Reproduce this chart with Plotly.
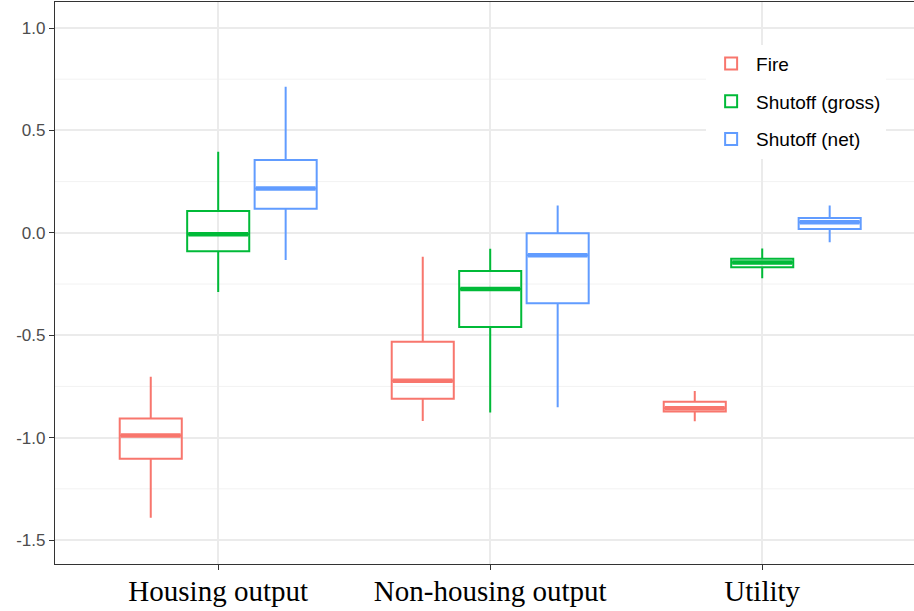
import plotly.graph_objects as go

categories = ["Housing output", "Non-housing output", "Utility"]
series = ["Fire", "Shutoff (gross)", "Shutoff (net)"]
colors = ["#F8766D", "#00BA38", "#619CFF"]

# per series: values for each category
lower = {
    "Fire": [-1.391, -0.919, -0.920],
    "Shutoff (gross)": [-0.289, -0.877, -0.222],
    "Shutoff (net)": [-0.133, -0.852, -0.046],
}
q1 = {
    "Fire": [-1.103, -0.810, -0.873],
    "Shutoff (gross)": [-0.090, -0.460, -0.168],
    "Shutoff (net)": [0.118, -0.344, 0.019],
}
median = {
    "Fire": [-0.989, -0.722, -0.857],
    "Shutoff (gross)": [-0.007, -0.274, -0.145],
    "Shutoff (net)": [0.217, -0.110, 0.052],
}
q3 = {
    "Fire": [-0.906, -0.532, -0.825],
    "Shutoff (gross)": [0.106, -0.187, -0.127],
    "Shutoff (net)": [0.355, -0.002, 0.072],
}
upper = {
    "Fire": [-0.703, -0.117, -0.772],
    "Shutoff (gross)": [0.396, -0.078, -0.076],
    "Shutoff (net)": [0.713, 0.134, 0.134],
}

ytick_vals = [-1.5, -1.0, -0.5, 0.0, 0.5, 1.0]
ytick_text = ["-1.5", "-1.0", "-0.5", "0.0", "0.5", "1.0"]

BOXGAP = 0.256
BOXGROUPGAP = 0.08

xpos = list(range(len(categories)))
fig = go.Figure()
for j, s in enumerate(series):
    fig.add_trace(go.Box(
        name=s, x=xpos,
        q1=q1[s], median=median[s], q3=q3[s],
        lowerfence=lower[s], upperfence=upper[s],
        line=dict(color=colors[j], width=2),
        whiskerwidth=0,
        fillcolor="rgba(255,255,255,0)",
        legendgroup=s,
        boxpoints=False,
        hoverinfo="skip",
    ))

# thicker median lines like ggplot
slot = (1 - BOXGAP) / len(series)
half = slot * (1 - BOXGROUPGAP) / 2
shapes = []
for j, s in enumerate(series):
    off = (j - (len(series) - 1) / 2) * slot
    for i, m in enumerate(median[s]):
        shapes.append(dict(type="line", xref="x", yref="y",
                           x0=xpos[i] + off - half + 0.004, x1=xpos[i] + off + half - 0.004,
                           y0=m, y1=m, line=dict(color=colors[j], width=4.5), layer="above"))

minor_vals = [-1.25, -0.75, -0.25, 0.25, 0.75]
for v in minor_vals:
    shapes.append(dict(type="line", xref="paper", yref="y", x0=0, x1=1, y0=v, y1=v,
                       line=dict(color="#F2F2F2", width=1), layer="below"))

fig.update_layout(
    width=914, height=611,
    margin=dict(l=55, r=0, t=2, b=47, autoexpand=False),
    paper_bgcolor="white", plot_bgcolor="white",
    boxmode="group", boxgap=BOXGAP, boxgroupgap=BOXGROUPGAP,
    shapes=shapes,
    showlegend=True,
    legend=dict(x=0.758, y=0.924, xanchor="left", yanchor="top",
                bgcolor="white", font=dict(family="Liberation Sans, Arial", size=19, color="black"),
                tracegroupgap=10, itemwidth=40),
    xaxis=dict(range=[-0.6, 2.558], tickvals=xpos, ticktext=categories, automargin=False,
               tickfont=dict(family="Liberation Serif, Times New Roman", size=29, color="black"),
               showgrid=True, gridcolor="#EBEBEB", gridwidth=1.5,
               showline=True, linecolor="#333333", linewidth=1.2, mirror=True,
               ticks="outside", ticklen=5, tickcolor="#333333", zeroline=False,
               ticklabelstandoff=-4),
    yaxis=dict(range=[-1.617, 1.127], tickvals=ytick_vals, ticktext=ytick_text, automargin=False,
               tickfont=dict(family="Liberation Sans, Arial", size=17, color="#4D4D4D"),
               showgrid=True, gridcolor="#EBEBEB", gridwidth=1.5,
               showline=True, linecolor="#333333", linewidth=1.2,
               ticks="outside", ticklen=5, tickcolor="#333333", zeroline=False),
)

fig.write_html("out.html", config={"displayModeBar": False},
               post_script="document.body.style.margin='0px';")
